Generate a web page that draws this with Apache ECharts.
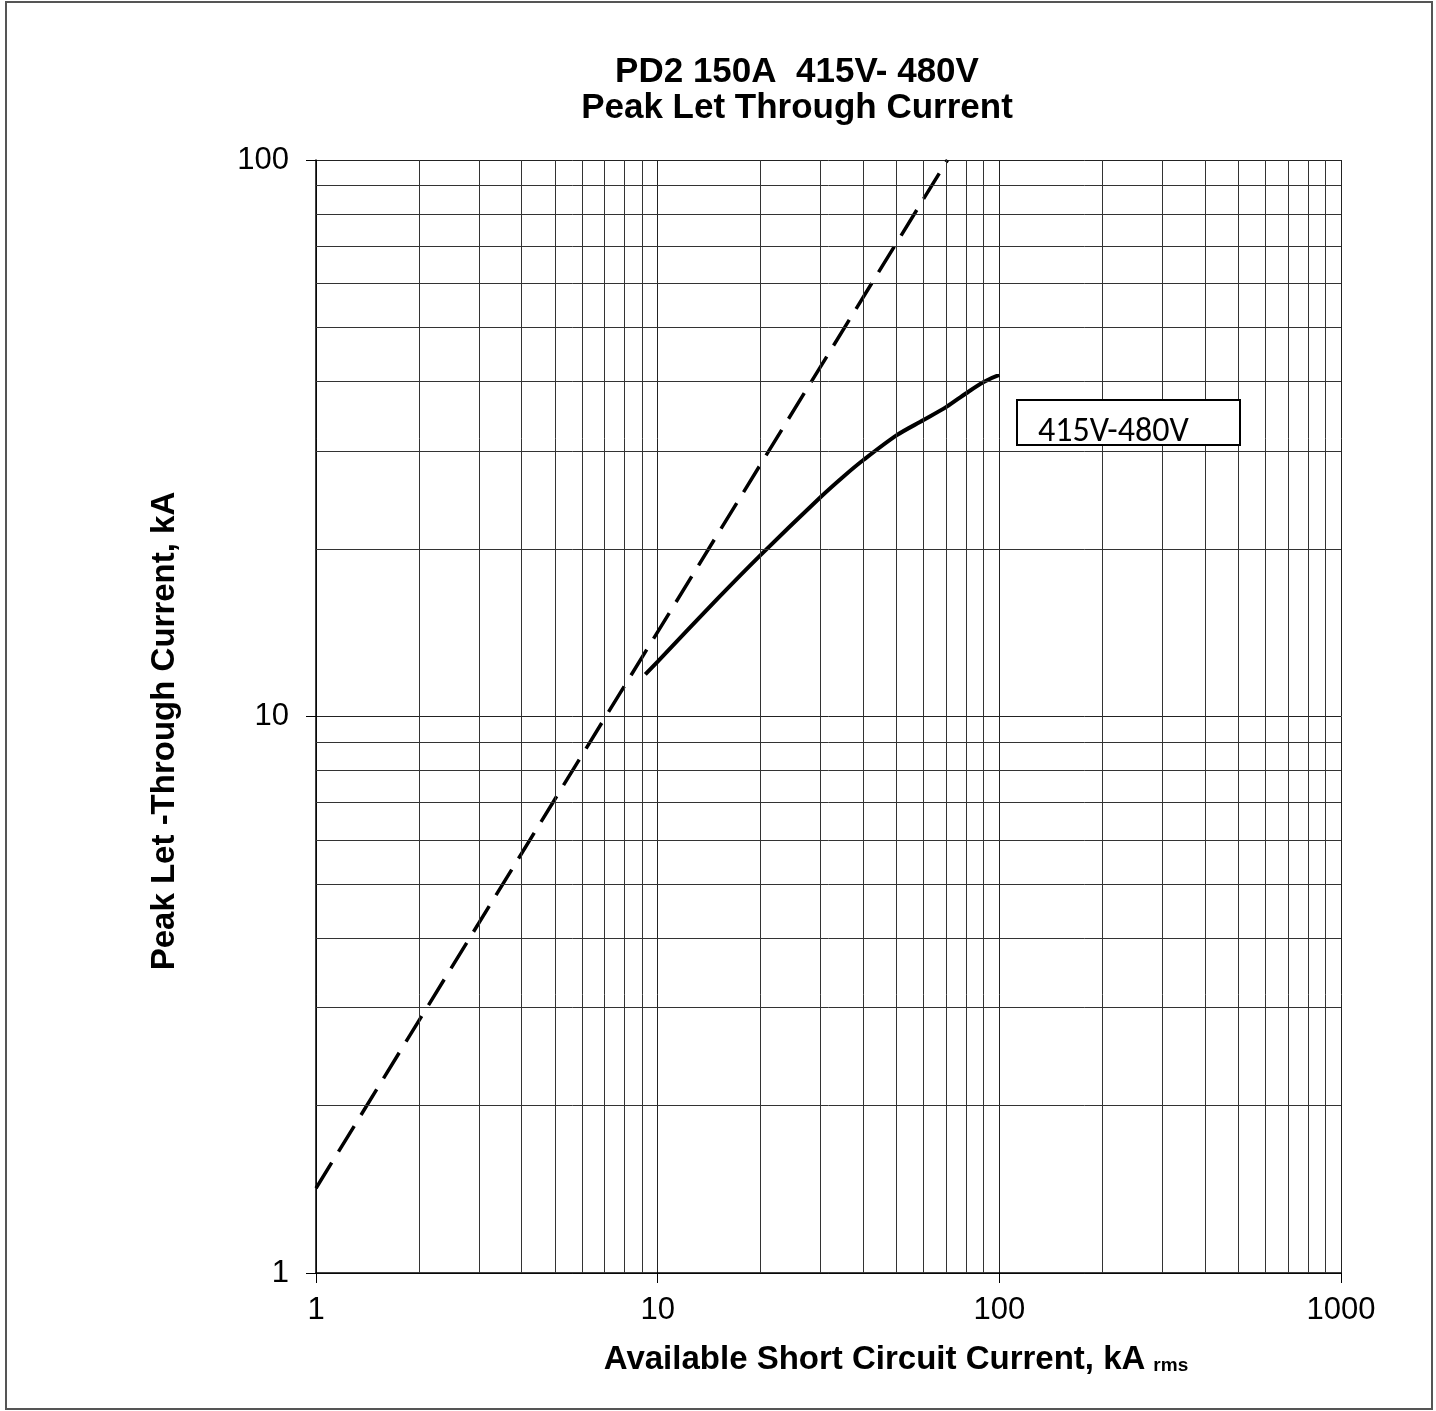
<!DOCTYPE html>
<html>
<head>
<meta charset="utf-8">
<script src="https://cdn.jsdelivr.net/npm/echarts@6/dist/echarts.min.js"></script>
<style>
html,body{margin:0;padding:0;background:#fff;}
#chart{width:1436px;height:1411px;}
</style>
</head>
<body>
<div id="chart"></div>
<script>
// ---- data ----
var titleLines = ['PD2 150A  415V- 480V', 'Peak Let Through Current'];
var xAxisName = 'Available Short Circuit Current, kA';
var xAxisNameSub = 'rms';
var yAxisName = 'Peak Let -Through Current, kA';
var legendLabel = '415V-480V';

// solid curve: [available kA rms, peak let-through kA]
var curveX = [9.2, 10, 15, 20, 30, 35, 40, 50, 60, 70, 80, 90, 100];
var curveY = [11.9, 12.55, 16.3, 19.5, 24.8, 27.0, 28.9, 32.0, 34.1, 36.0, 38.1, 39.9, 41.1];

// dashed (unlimited peak) line
var dashX = [1, 70.5];
var dashY = [1.42, 100];

// minor grid values
var xMinor = [2,3,4,5,6,7,8,9,20,30,40,50,60,70,80,90,200,300,400,500,600,700,800,900];
var yMinor = [2,3,4,5,6,7,8,9,20,30,40,50,60,70,80,90];

function pairs(xs, ys){ return xs.map(function(x,i){ return [x, ys[i]]; }); }

var FONT = '"Liberation Sans", Arial, sans-serif';
var chart = echarts.init(document.getElementById('chart'), null, {renderer:'canvas'});

var minorLines = xMinor.map(function(v){ return {xAxis: v}; })
  .concat(yMinor.map(function(v){ return {yAxis: v}; }));

chart.setOption({
  backgroundColor: '#fff',
  animation: false,
  title: {
    text: titleLines.join('\n'),
    left: 792,
    top: 49,
    textAlign: 'center',
    textStyle: {fontFamily: FONT, fontWeight: 'bold', fontSize: 35, lineHeight: 36, color: '#000'}
  },
  grid: {left: 316, top: 160, width: 1025, height: 1113, containLabel: false},
  xAxis: {
    type: 'log', logBase: 10, min: 1, max: 1000,
    axisLine: {show: true, lineStyle: {color: '#000', width: 1.5}},
    axisTick: {show: true, inside: false, length: 10, lineStyle: {color: '#000', width: 1}},
    minorTick: {show: false},
    axisLabel: {fontFamily: FONT, fontSize: 31, color: '#000', margin: 22,
      formatter: function(v){ return String(Math.round(v)); }},
    splitLine: {show: true, lineStyle: {color: '#222', width: 1}}
  },
  yAxis: {
    type: 'log', logBase: 10, min: 1, max: 100,
    axisLine: {show: true, lineStyle: {color: '#000', width: 1.5}},
    axisTick: {show: true, inside: false, length: 10, lineStyle: {color: '#000', width: 1}},
    axisLabel: {fontFamily: FONT, fontSize: 31, color: '#000', margin: 27,
      formatter: function(v){ return String(Math.round(v)); }},
    splitLine: {show: true, lineStyle: {color: '#222', width: 1}}
  },
  graphic: [
    {type: 'rect', shape: {x: 6, y: 2, width: 1426, height: 1407}, style: {fill: 'none', stroke: '#555', lineWidth: 2}, z: 0},
    {type: 'text', x: 896, y: 1360, style: {
      text: '{a|' + xAxisName + '}{s| }{b|' + xAxisNameSub + '}',
      rich: {
        a: {fontFamily: FONT, fontWeight: 'bold', fontSize: 33, fill: '#000', verticalAlign: 'bottom'},
        s: {fontFamily: FONT, fontSize: 14, width: 8},
        b: {fontFamily: FONT, fontWeight: 'bold', fontSize: 19, fill: '#000', verticalAlign: 'bottom', padding:[0,0,1,0]}
      },
      align: 'center', verticalAlign: 'middle'
    }},
    {type: 'text', x: 165, y: 731, rotation: Math.PI/2, style: {
      text: yAxisName, fontFamily: FONT, fontWeight: 'bold', fontSize: 33, fill: '#000',
      align: 'center', verticalAlign: 'middle'
    }},
    {type: 'rect', shape: {x: 1017, y: 400, width: 223, height: 45}, style: {fill: '#fff', stroke: '#000', lineWidth: 2}, z: 10},
    {type: 'text', x: 1038, y: 449, style: {
      text: legendLabel, fontFamily: 'Carlito, "Open Sans", sans-serif', fontSize: 34, fill: '#000',
      align: 'left', verticalAlign: 'bottom'
    }, z: 11}
  ],
  series: [
    {
      type: 'line', name: 'grid', data: [], silent: true,
      markLine: {
        silent: true, symbol: 'none', animation: false,
        label: {show: false},
        lineStyle: {color: '#333', width: 1, type: 'solid'},
        data: minorLines
      }
    },
    {
      type: 'line', name: 'unlimited', data: pairs(dashX, dashY),
      showSymbol: false, symbol: 'none', clip: true,
      lineStyle: {color: '#000', width: 3.5, type: [30, 13]}
    },
    {
      type: 'line', name: legendLabel, data: pairs(curveX, curveY),
      showSymbol: false, symbol: 'none', smooth: 0.3,
      lineStyle: {color: '#000', width: 4}
    }
  ]
});
</script>
</body>
</html>
